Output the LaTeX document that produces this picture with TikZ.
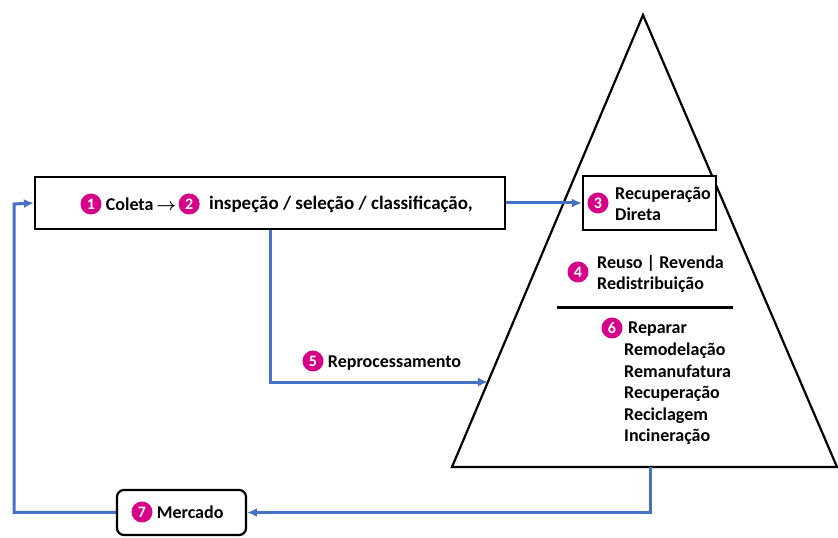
\documentclass[tikz,border=0pt]{standalone}
\usepackage{fontspec}
\setmainfont{Carlito}
\usetikzlibrary{arrows.meta,positioning,calc}
\definecolor{flowblue}{RGB}{68,114,196}
\definecolor{badgepink}{RGB}{214,0,137}

\begin{document}
\begin{tikzpicture}
[x=1pt, y=1pt, >={Latex[length=10pt,width=9pt]},
font=\fontsize{18}{21.6}\selectfont\bfseries,
stage/.style = {draw, line width=2.2pt, inner sep=0pt},
badge/.style = {circle, fill=badgepink, text=white, minimum size=21pt,
  inner sep=0pt, font=\fontsize{16}{16}\selectfont\bfseries},
txt/.style = {inner sep=0pt, align=left, anchor=west},
flow/.style = {draw=flowblue, line width=3pt, ->}]
\useasboundingbox (0,0) rectangle (838,538);

% triangle of recovery options
\coordinate (apex) at (643,523);
\coordinate (bl) at (452,71);
\coordinate (br) at (837,71);
\draw[line width=2.2pt] (bl) -- (apex) -- (br) -- cycle;
\draw[line width=3pt] (557,230) -- (733,230);

% boxes
\node[stage, minimum width=470pt, minimum height=52pt] (coleta) at (270,335){};
\node[stage, fill=white, minimum width=133pt, minimum height=54pt] (direta) at (649.5,335){};
\node[stage, rounded corners=7pt, minimum width=129pt, minimum height=45pt] (mercado) at (181.5,25.5){};

% texts
\node[badge] (b1) at (91,334){1};
\node[txt, right=4pt of b1] (t1){Coleta\,{\boldmath$\rightarrow$}};
\node[badge, right=2pt of t1] (b2){2};
\node[txt, right=9pt of b2, font=\fontsize{19}{21.6}\selectfont\bfseries] (t2)
  {inspeção / seleção / classificação,};

\node[badge] (b3) at (598,335){3};
\node[txt] (t3) at (615,334){Recuperação\\Direta};

\node[badge] (b4) at (578,266){4};
\node[txt] (t4) at (597,264){Reuso | Revenda\\Redistribuição};

\node[badge] (b6) at (612,210){6};
\node[txt, anchor=north west] (t6) at (624,216)
  {\hspace*{4pt}Reparar\\Remodelação\\Remanufatura\\Recuperação\\Reciclagem\\Incineração};

\node[badge] (b5) at (313,177){5};
\node[txt, right=4pt of b5, yshift=-2pt] (t5){Reprocessamento};

\node[badge] (b7) at (142,26){7};
\node[txt, right=4pt of b7] (t7){Mercado};

% flows
\coordinate (rpin) at ($(apex)!0.812!(bl)$);
\coordinate (bout) at (650,71);
\coordinate (loop) at (14,334);
\draw[flow] (coleta.east) -- (coleta.east -| direta.west);
\draw[flow] (coleta.south) |- (rpin);
\draw[flow] (bout) |- (mercado.east);
\draw[flow] (mercado.west) -| (loop) -- (coleta.west);

\end{tikzpicture}
\end{document}
